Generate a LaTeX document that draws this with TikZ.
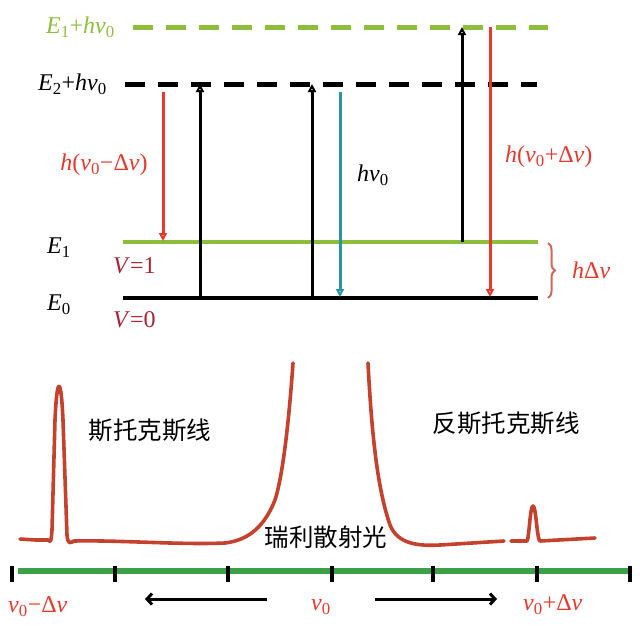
\documentclass[tikz,border=0pt]{standalone}
\usepackage{fontspec}
\setmainfont{Liberation Serif}
\newfontfamily\cjk{Noto Sans CJK SC}
\usetikzlibrary{arrows.meta,decorations.pathreplacing}
\definecolor{lgreen}{RGB}{140,190,60}
\definecolor{sred}{RGB}{232,55,45}
\definecolor{dred}{RGB}{170,35,50}
\definecolor{tealc}{RGB}{40,150,160}
\definecolor{curvec}{RGB}{195,65,45}
\definecolor{axgreen}{RGB}{60,160,70}
\definecolor{bracec}{RGB}{210,100,90}
\newcommand\nuz{\textit{ν}\textsubscript{0}}
\begin{document}
\begin{tikzpicture}[x=1pt,y=-1pt,
  lab/.style={font=\fontsize{24}{28}\selectfont, inner sep=0pt},
  cjklab/.style={font=\cjk\fontsize{24.5}{28}\selectfont, inner sep=0pt},
  level/.style={line width=4.5pt},
  dlevel/.style={line width=5pt, dash pattern=on 20pt off 13pt},
  trans/.style={line width=3pt, -{Triangle[open,length=8pt,width=8pt]}},
  hor/.style={line width=3pt, -{Straight Barb[length=5pt,width=11pt]}},
  tick/.style={line width=3.5pt},
  spec/.style={curvec, line width=3.6pt, line join=round, line cap=round}]
\useasboundingbox (0,0) rectangle (640,625);
% level coordinates
\coordinate (g1) at (133,27);  \coordinate (g2) at (548,27);
\coordinate (b1) at (125,84);  \coordinate (b2) at (537,84);
\coordinate (e1a) at (123,242); \coordinate (e1b) at (538,242);
\coordinate (e0a) at (123,298); \coordinate (e0b) at (538,298);
\draw[dlevel, lgreen] (g1) -- (g2);
\draw[dlevel, black] (b1) -- (b2);
\draw[level, lgreen] (e1a) -- (e1b);
\draw[level, black] (e0a) -- (e0b);
% transitions
\coordinate (t1s) at (163,92);  \coordinate (t1e) at (163,241);
\coordinate (t2s) at (200,298); \coordinate (t2e) at (200,84);
\coordinate (t3s) at (312,298); \coordinate (t3e) at (312,84);
\coordinate (t4s) at (340,92);  \coordinate (t4e) at (340,297);
\coordinate (t5s) at (462,242); \coordinate (t5e) at (462,27);
\coordinate (t6s) at (490,27);  \coordinate (t6e) at (490,297);
\draw[trans, sred] (t1s) -- (t1e);
\draw[trans, black] (t2s) -- (t2e);
\draw[trans, black] (t3s) -- (t3e);
\draw[trans, tealc] (t4s) -- (t4e);
\draw[trans, black] (t5s) -- (t5e);
\draw[trans, sred] (t6s) -- (t6e);
% labels
\node[lab, lgreen, anchor=east] (lg) at (115,27) {\textit{E}\textsubscript{1}+\textit{h}\nuz};
\node[lab, anchor=east] (lb) at (107,84) {\textit{E}\textsubscript{2}+\textit{h}\nuz};
\node[lab, sred] (ls) at (104,165) {\textit{h}(\nuz−Δ\textit{ν})};
\node[lab, anchor=west] (lh) at (357,175) {\textit{h}\nuz};
\node[lab, sred, anchor=west] (la) at (505,157) {\textit{h}(\nuz+Δ\textit{ν})};
\node[lab, anchor=west] (le1) at (47,248) {\textit{E}\textsubscript{1}};
\node[lab, anchor=west] (le0) at (47,305) {\textit{E}\textsubscript{0}};
\node[lab, dred, anchor=west] (lv1) at (113,266) {\textit{V}=1};
\node[lab, dred, anchor=west] (lv0) at (113,320) {\textit{V}=0};
\coordinate (br1) at (548,243); \coordinate (br2) at (548,298);
\draw[bracec, line width=2pt, decorate, decoration={brace, amplitude=7pt}] (br1) -- (br2);
\node[lab, sred, anchor=west] (ld) at (572,270) {\textit{h}Δ\textit{ν}};
% spectrum
\draw[spec] (20,539) -- (36,540) -- (48,540) .. controls (50,541) and (51,545) .. (52,530)
  -- (55,420) .. controls (57,375) and (61,375) .. (63,420) -- (67,535)
  .. controls (68,545) and (70,543) .. (74,541)
  .. controls (120,540) and (180,545) .. (225,543)
  .. controls (250,540) and (265,525) .. (275,500)
  .. controls (283,475) and (289,420) .. (293,363);
\draw[spec] (368,363) .. controls (372,440) and (378,490) .. (390,525)
  .. controls (398,545) and (420,546) .. (440,545)
  -- (504,541);
\draw[spec] (511,541) -- (527,541) .. controls (529,540) and (530,506) .. (533,506)
  .. controls (536,506) and (537,540) .. (540,541) -- (595,538);
\node[cjklab] (stokes) at (150,430) {斯托克斯线};
\node[cjklab] (astokes) at (506,423) {反斯托克斯线};
\node[cjklab] (rayl) at (326,537) {瑞利散射光};
% axis
\coordinate (ax1) at (18,571); \coordinate (ax2) at (630,571);
\draw[axgreen, line width=6pt] (ax1) -- (ax2);
\foreach \x in {12,115,228,332,433,537,630}
  \draw[tick] (\x,566) -- (\x,582);
\coordinate (la1) at (267,599); \coordinate (la2) at (145,599);
\coordinate (ra1) at (375,599); \coordinate (ra2) at (497,599);
\draw[hor] (la1) -- (la2);
\draw[hor] (ra1) -- (ra2);
\node[lab, sred, anchor=west] (n1) at (8,607) {\nuz−Δ\textit{ν}};
\node[lab, sred] (n2) at (321,607) {\nuz};
\node[lab, sred, anchor=west] (n3) at (523,605) {\nuz+Δ\textit{ν}};
\end{tikzpicture}
\end{document}
